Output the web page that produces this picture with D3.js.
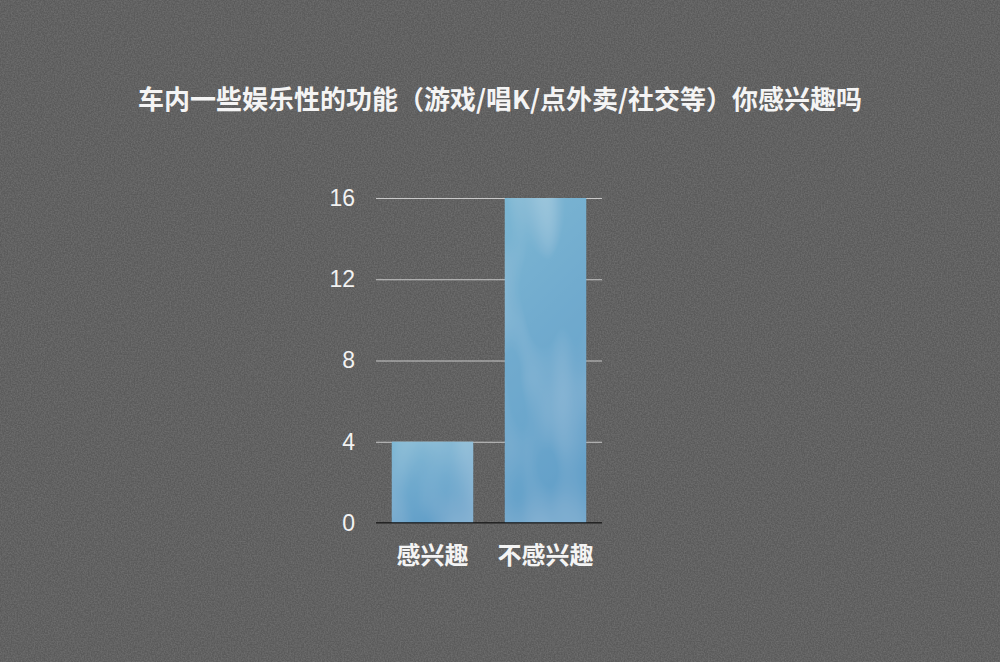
<!DOCTYPE html>
<html lang="zh">
<head>
    <meta charset="UTF-8">
    <title>车内娱乐功能兴趣</title>
    <style>
        body { margin: 0; background: #595959; }
        .tick text { font-family: "Liberation Sans", Arial, sans-serif; }
        .title {
            font-family: "Noto Sans CJK SC", sans-serif;
            font-size: 26px;
            font-weight: bold;
            fill: #f4f4f4;
        }
        .cat {
            font-family: "Noto Sans CJK SC", sans-serif;
            font-size: 24px;
            font-weight: bold;
            fill: #f4f4f4;
        }
    </style>
    <script src="https://d3js.org/d3.v7.min.js"></script>
</head>
<body>
    <div id="chart"></div>
    <script>
        const categories = ["感兴趣", "不感兴趣"];
        const counts = [4, 16];
        const yTicks = [0, 4, 8, 12, 16];
        const title = "车内一些娱乐性的功能（游戏/唱K/点外卖/社交等）你感兴趣吗";

        const width = 1000;
        const height = 662;
        const margin = { top: 198, right: 398, bottom: 139, left: 376 };

        const svg = d3.select("#chart").append("svg")
            .attr("width", width)
            .attr("height", height);

        const defs = svg.append("defs");

        // subtle grey paper grain
        const paper = defs.append("filter").attr("id", "paper")
            .attr("x", 0).attr("y", 0).attr("width", "100%").attr("height", "100%");
        paper.append("feTurbulence")
            .attr("type", "fractalNoise")
            .attr("baseFrequency", 0.7)
            .attr("numOctaves", 2)
            .attr("seed", 3)
            .attr("result", "noise");
        paper.append("feColorMatrix")
            .attr("in", "noise")
            .attr("type", "matrix")
            .attr("values", "0 0 0 0 0.3  0 0 0 0 0.3  0 0 0 0 0.3  0.5 0 0 0 -0.15")
            .attr("result", "grain");
        paper.append("feComposite").attr("in", "grain").attr("in2", "SourceGraphic").attr("operator", "atop");

        svg.append("rect")
            .attr("width", width)
            .attr("height", height)
            .attr("fill", "#5a5a5a")
            .attr("filter", "url(#paper)");

        // blue watercolour-ish bar fill
        const grad = defs.append("linearGradient").attr("id", "barGrad")
            .attr("x1", 0).attr("y1", 0).attr("x2", 0.25).attr("y2", 1);
        grad.append("stop").attr("offset", "0%").attr("stop-color", "#8ac5da");
        grad.append("stop").attr("offset", "45%").attr("stop-color", "#74afd1");
        grad.append("stop").attr("offset", "100%").attr("stop-color", "#5998c5");

        const waves = defs.append("filter").attr("id", "waves")
            .attr("x", 0).attr("y", 0).attr("width", "100%").attr("height", "100%");
        waves.append("feTurbulence")
            .attr("type", "fractalNoise")
            .attr("baseFrequency", "0.02 0.008")
            .attr("numOctaves", 2)
            .attr("seed", 8)
            .attr("result", "t");
        waves.append("feColorMatrix")
            .attr("in", "t")
            .attr("type", "matrix")
            .attr("values", "0 0 0 0 1  0 0 0 0 1  0 0 0 0 1  0 0 0 1.1 -0.45")
            .attr("result", "light");
        waves.append("feComposite").attr("in", "light").attr("in2", "SourceGraphic").attr("operator", "atop");

        const x = d3.scaleBand()
            .domain(categories)
            .range([margin.left, width - margin.right])
            .paddingInner(0.28)
            .paddingOuter(0.14);

        const y = d3.scaleLinear()
            .domain([0, 16])
            .range([height - margin.bottom, margin.top]);

        // title
        svg.append("text")
            .attr("class", "title")
            .attr("x", width / 2)
            .attr("y", 109)
            .attr("text-anchor", "middle")
            .text(title);

        // gridlines + y labels
        const yAxis = svg.append("g")
            .attr("transform", `translate(${x.range()[0]},0)`)
            .call(d3.axisLeft(y)
                .tickValues(yTicks)
                .tickSize(-(x.range()[1] - x.range()[0]))
                .tickPadding(21));
        yAxis.select(".domain").remove();
        yAxis.selectAll(".tick line")
            .attr("stroke", "#c8c8c8")
            .attr("stroke-width", 1.2);
        yAxis.selectAll(".tick text")
            .attr("fill", "#f2f2f2")
            .attr("font-size", 23);

        // bars
        const bars = svg.append("g");
        bars.selectAll("rect.base")
            .data(counts)
            .join("rect")
            .attr("class", "base")
            .attr("x", (d, i) => x(categories[i]))
            .attr("y", d => y(d))
            .attr("width", x.bandwidth())
            .attr("height", d => y(0) - y(d))
            .attr("fill", "url(#barGrad)");
        bars.selectAll("rect.tex")
            .data(counts)
            .join("rect")
            .attr("class", "tex")
            .attr("x", (d, i) => x(categories[i]))
            .attr("y", d => y(d))
            .attr("width", x.bandwidth())
            .attr("height", d => y(0) - y(d))
            .attr("fill", "#6fa9cd")
            .attr("filter", "url(#waves)")
            .attr("opacity", 0.5);

        // baseline
        svg.append("line")
            .attr("x1", x.range()[0])
            .attr("x2", x.range()[1])
            .attr("y1", y(0))
            .attr("y2", y(0))
            .attr("stroke", "#111")
            .attr("stroke-width", 1.5);

        // category labels
        svg.append("g").selectAll("text")
            .data(categories)
            .join("text")
            .attr("class", "cat")
            .attr("x", d => x(d) + x.bandwidth() / 2)
            .attr("y", y(0) + 41)
            .attr("text-anchor", "middle")
            .text(d => d);
    </script>
</body>
</html>
